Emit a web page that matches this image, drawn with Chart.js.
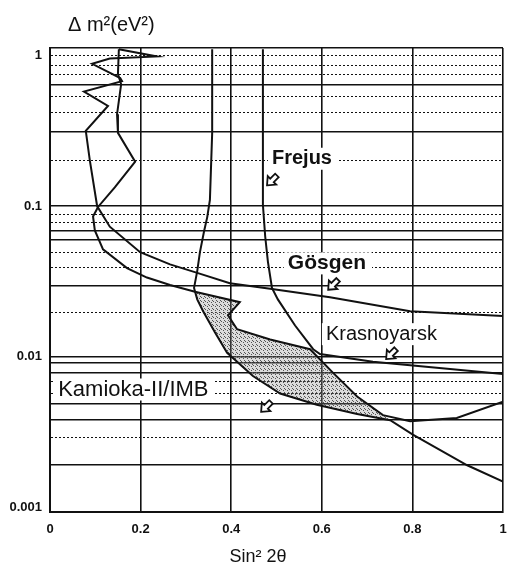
<!DOCTYPE html>
<html>
<head>
<meta charset="utf-8">
<script src="https://cdn.jsdelivr.net/npm/chart.js@4"></script>
<style>
  body { margin: 0; background: #fff; }
  #wrap { width: 507px; height: 573px; }
</style>
</head>
<body>
<div id="wrap"><canvas id="myChart"></canvas></div>
<script>
// curves: x = sin^2 2theta, y = delta m^2 (eV^2)
const gosgenX = [0.152, 0.236, 0.132, 0.093, 0.155, 0.159, 0.075, 0.128, 0.079, 0.088, 0.104, 0.132, 0.199, 0.265, 0.325, 0.397, 0.486, 0.618, 0.795, 1.0];
const gosgenY = [1.1, 0.985, 0.955, 0.88, 0.707, 0.674, 0.575, 0.462, 0.316, 0.2, 0.1, 0.0729, 0.0494, 0.041, 0.036, 0.0307, 0.0282, 0.0248, 0.02, 0.0186];

const upperX = [0.152, 0.15, 0.157, 0.148, 0.15, 0.188, 0.143, 0.106, 0.095, 0.099, 0.117, 0.17, 0.214, 0.265, 0.32, 0.419, 0.393, 0.413, 0.486, 0.574, 0.625, 0.678, 0.735, 0.795, 0.898, 1.0];
const upperY = [1.1, 0.753, 0.643, 0.407, 0.306, 0.197, 0.133, 0.0986, 0.0853, 0.0688, 0.0516, 0.0387, 0.0335, 0.0299, 0.027, 0.023, 0.0188, 0.0152, 0.013, 0.0112, 0.0078, 0.00543, 0.00409, 0.00373, 0.00391, 0.00502];

const kamiokaX = [0.358, 0.358, 0.353, 0.347, 0.34, 0.331, 0.325, 0.318, 0.325, 0.338, 0.364, 0.391, 0.448, 0.508, 0.589, 0.678, 0.751, 0.801, 0.921, 1.0];
const kamiokaY = [1.1, 0.306, 0.11, 0.0841, 0.0678, 0.0494, 0.037, 0.0286, 0.024, 0.02, 0.0145, 0.0106, 0.00743, 0.00569, 0.00479, 0.00416, 0.00378, 0.00304, 0.0019, 0.00148];

const frejusX = [0.47, 0.47, 0.47, 0.475, 0.481, 0.49, 0.503, 0.541, 0.581, 0.596, 0.713, 0.883, 1.0];
const frejusY = [1.1, 0.306, 0.102, 0.063, 0.0428, 0.0286, 0.024, 0.0161, 0.0112, 0.0104, 0.00925, 0.00829, 0.00766];

// tick / grid values
const xTicks = [0, 0.2, 0.4, 0.6, 0.8, 1];
const yLabelTicks = [1, 0.1, 0.01, 0.001];
const ySolidGrid = [1.12, 0.64, 0.31, 0.1, 0.068, 0.06, 0.0295, 0.01, 0.0091, 0.0078, 0.0049, 0.0038, 0.0019, 0.00093];
const yDottedGrid = [1, 0.855, 0.75, 0.53, 0.42, 0.2, 0.088, 0.078, 0.049, 0.039, 0.0196, 0.00687, 0.00569, 0.0029];

const labelNames = ['Frejus', 'Gösgen', 'Krasnoyarsk', 'Kamioka-II/IMB'];

const yTicks = [...new Set([...ySolidGrid, ...yDottedGrid, ...yLabelTicks])].sort((a, b) => a - b);

function pts(xs, ys) {
    return xs.map((x, i) => ({x: x, y: ys[i]}));
}

// shaded region: upper contour from the Kamioka line down to the tip, back along the Kamioka line
const shade = pts(upperX.slice(14, 23), upperY.slice(14, 23))
    .concat(pts(kamiokaX.slice(7, 17), kamiokaY.slice(7, 17)).reverse());

function stipple() {
    const c = document.createElement('canvas');
    c.width = 4; c.height = 4;
    const g = c.getContext('2d');
    g.fillStyle = 'rgba(140,140,140,0.3)';
    g.fillRect(0, 0, 4, 4);
    g.fillStyle = '#555';
    g.fillRect(0, 0, 1, 1);
    g.fillRect(1, 1, 1, 1);
    g.fillRect(3, 2, 1, 1);
    return g.createPattern(c, 'repeat');
}

function line(data) {
    return {data: data, borderColor: '#111', borderWidth: 2, pointRadius: 0, fill: false, tension: 0};
}

// label and arrow places, in data units
const notePos = [
    {x: 0.49, y: 0.206, font: 'bold 20px "Liberation Sans"', ax: 0.49, ay: 0.148},
    {x: 0.525, y: 0.0416, font: 'bold 21px "Liberation Sans"', ax: 0.625, ay: 0.030},
    {x: 0.609, y: 0.0141, font: '20px "Liberation Sans"', ax: 0.753, ay: 0.0104},
    {x: 0.018, y: 0.00605, font: '22px "Liberation Sans"', ax: 0.477, ay: 0.00464}
];

function arrow(ctx, px, py) {
    ctx.save();
    ctx.translate(px, py);
    ctx.rotate(Math.PI * 0.75);
    ctx.beginPath();
    ctx.moveTo(7, 0);
    ctx.lineTo(0, -6);
    ctx.lineTo(0, -2.5);
    ctx.lineTo(-7, -2.5);
    ctx.lineTo(-7, 2.5);
    ctx.lineTo(0, 2.5);
    ctx.lineTo(0, 6);
    ctx.closePath();
    ctx.fillStyle = '#fff';
    ctx.fill();
    ctx.lineWidth = 1.8;
    ctx.strokeStyle = '#111';
    ctx.stroke();
    ctx.restore();
}

const notes = {
    id: 'notes',
    beforeDatasetsDraw(chart) {
        const ctx = chart.ctx, xs = chart.scales.x, ys = chart.scales.y;
        ctx.save();
        ctx.fillStyle = '#fff';
        notePos.forEach((p, i) => {
            ctx.font = p.font;
            const w = ctx.measureText(labelNames[i]).width;
            const px = xs.getPixelForValue(p.x), py = ys.getPixelForValue(p.y);
            ctx.fillRect(px - 4, py - 11, w + 10, 22);
        });
        ctx.restore();
    },
    afterDraw(chart) {
        const ctx = chart.ctx, xs = chart.scales.x, ys = chart.scales.y, a = chart.chartArea;
        ctx.save();
        ctx.fillStyle = '#111';
        ctx.textBaseline = 'middle';
        notePos.forEach((p, i) => {
            ctx.font = p.font;
            ctx.textAlign = 'left';
            ctx.fillText(labelNames[i], xs.getPixelForValue(p.x), ys.getPixelForValue(p.y));
            arrow(ctx, xs.getPixelForValue(p.ax), ys.getPixelForValue(p.ay));
        });
        ctx.font = '20px "Liberation Sans"';
        ctx.fillText('\u0394 m\u00b2(eV\u00b2)', a.left + 18, a.top - 23);
        ctx.textAlign = 'center';
        ctx.font = '18px "Liberation Sans"';
        ctx.fillText('Sin\u00b2 2\u03b8', a.left + 208, a.bottom + 45);
        ctx.restore();
    }
};

const ctx = document.getElementById('myChart').getContext('2d');

function yStyle(v) {
    if (ySolidGrid.includes(v)) return 'solid';
    if (yDottedGrid.includes(v)) return 'dotted';
    return 'none';
}

const myChart = new Chart(ctx, {
    type: 'line',
    data: {
        datasets: [
            line(pts(gosgenX, gosgenY)),
            line(pts(upperX, upperY)),
            line(pts(kamiokaX, kamiokaY)),
            line(pts(frejusX, frejusY)),
            {data: shade, fill: 'shape', backgroundColor: stipple(), borderColor: 'rgba(0,0,0,0)', borderWidth: 1, pointRadius: 0, tension: 0}
        ]
    },
    options: {
        responsive: true,
        maintainAspectRatio: false,
        animation: false,
        layout: {padding: {top: 48, right: 4, left: 0, bottom: 0}},
        plugins: {legend: {display: false}, tooltip: {enabled: false}},
        scales: {
            x: {
                type: 'linear',
                min: 0,
                max: 1,
                afterBuildTicks: (s) => { s.ticks = xTicks.map(v => ({value: v})); },
                afterFit: (s) => { s.height = 61; s.paddingLeft = 0; s.paddingRight = 0; },
                grid: {color: '#111', lineWidth: 1.6, drawTicks: false},
                border: {color: '#111', width: 2},
                ticks: {
                    color: '#111',
                    padding: 10,
                    autoSkip: false,
                    maxRotation: 0,
                    font: {family: 'Liberation Sans', size: 13, weight: 'bold'},
                    callback: (v) => String(v)
                }
            },
            y: {
                type: 'logarithmic',
                min: 0.00093,
                max: 1.12,
                afterBuildTicks: (s) => { s.ticks = yTicks.map(v => ({value: v})); },
                afterFit: (s) => { s.width = 50; s.paddingTop = 0; s.paddingBottom = 0; },
                grid: {
                    drawTicks: false,
                    color: (c) => (c.tick && yStyle(c.tick.value) === 'none') ? 'rgba(0,0,0,0)' : '#111',
                    lineWidth: (c) => (c.tick && yStyle(c.tick.value) === 'dotted') ? 1 : 1.6
                },
                border: {
                    color: '#111',
                    width: 2,
                    dash: (c) => (c.tick && yStyle(c.tick.value) === 'dotted') ? [2, 2] : []
                },
                ticks: {
                    color: '#111',
                    padding: 8,
                    autoSkip: false,
                    font: {family: 'Liberation Sans', size: 13, weight: 'bold'},
                    callback: (v) => yLabelTicks.includes(v) ? String(v) : ''
                }
            }
        }
    },
    plugins: [notes]
});
</script>
</body>
</html>
